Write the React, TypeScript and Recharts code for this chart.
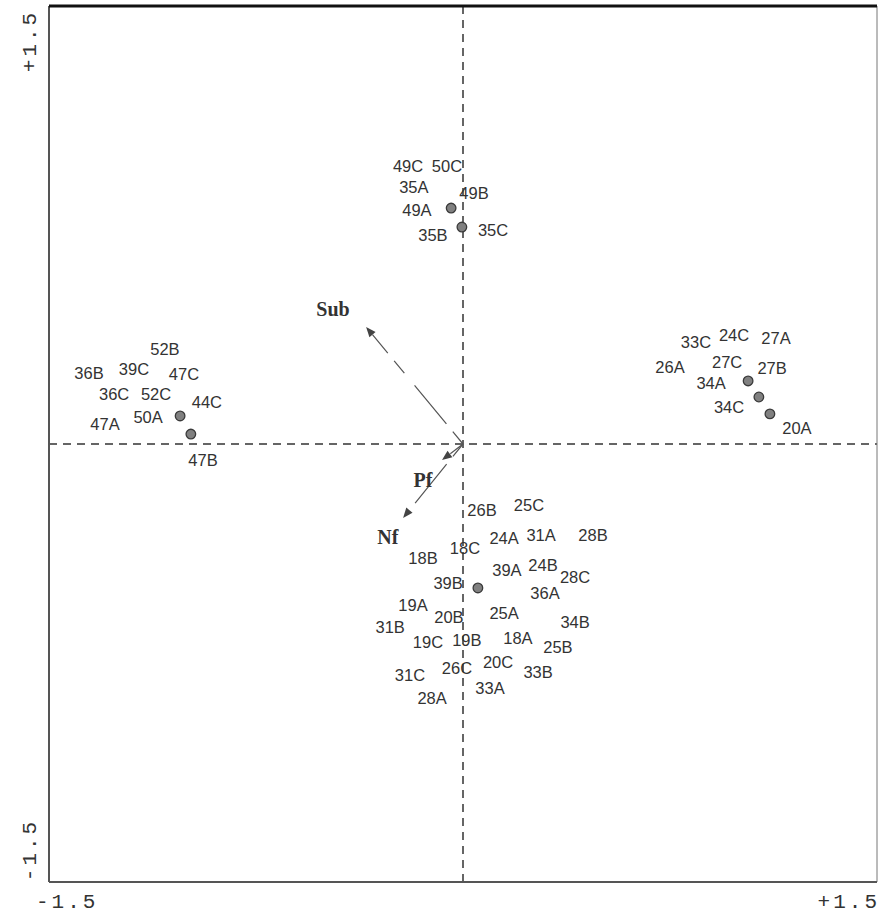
import {
  ReferenceLine,
  Scatter,
  ScatterChart,
  XAxis,
  YAxis,
} from "recharts";

// sample markers (ordination scores)
const pointX = [-0.043, -0.004, -1.025, -0.986, 1.033, 1.072, 1.112, 0.054];
const pointY = [0.808, 0.743, 0.096, 0.034, 0.216, 0.161, 0.103, -0.493];

// sample labels
const labelNames = [
  "49C", "50C", "35A", "49B", "49A", "35B", "35C",
  "52B", "36B", "39C", "47C", "36C", "52C", "44C", "50A", "47A", "47B",
  "33C", "24C", "27A", "26A", "27C", "27B", "34A", "34C", "20A",
  "26B", "25C", "24A", "31A", "28B", "18C", "18B", "39A", "24B", "28C",
  "39B", "36A", "19A", "20B", "25A", "34B", "31B", "19C", "19B", "18A",
  "25B", "20C", "26C", "31C", "33B", "33A", "28A",
];
const labelX = [
  -0.199, -0.058, -0.178, 0.04, -0.167, -0.109, 0.109,
  -1.08, -1.355, -1.192, -1.011, -1.264, -1.112, -0.928, -1.141, -1.297, -0.942,
  0.844, 0.982, 1.134, 0.75, 0.957, 1.12, 0.899, 0.964, 1.21,
  0.069, 0.239, 0.149, 0.283, 0.471, 0.007, -0.145, 0.159, 0.29, 0.406,
  -0.054, 0.297, -0.181, -0.051, 0.149, 0.406, -0.264, -0.127, 0.014, 0.199,
  0.344, 0.127, -0.022, -0.192, 0.272, 0.098, -0.112,
];
const labelY = [
  0.952, 0.952, 0.88, 0.86, 0.801, 0.716, 0.733,
  0.325, 0.243, 0.257, 0.24, 0.171, 0.171, 0.144, 0.092, 0.068, -0.055,
  0.349, 0.373, 0.363, 0.264, 0.281, 0.26, 0.209, 0.127, 0.055,
  -0.226, -0.209, -0.322, -0.312, -0.312, -0.356, -0.39, -0.432, -0.414, -0.455,
  -0.476, -0.51, -0.551, -0.592, -0.579, -0.61, -0.627, -0.678, -0.671, -0.664,
  -0.695, -0.747, -0.767, -0.791, -0.781, -0.836, -0.87,
];

// environmental vectors
const vectorNames = ["Sub", "Pf", "Nf"];
const vectorX = [-0.351, -0.076, -0.217];
const vectorY = [0.401, -0.055, -0.253];
const vectorLabelX = [-0.471, -0.145, -0.272];
const vectorLabelY = [0.462, -0.123, -0.318];

const axisTicks = [-1.5, 1.5];
const tickText = (v: number) => (v > 0 ? "+1.5" : "-1.5");

const points = pointX.map((x, i) => ({ x, y: pointY[i] }));
const labels = labelNames.map((name, i) => ({ name, x: labelX[i], y: labelY[i] }));
const vectorLabels = vectorNames.map((name, i) => ({ name, x: vectorLabelX[i], y: vectorLabelY[i] }));

const tickFont = "'Liberation Mono', 'DejaVu Sans Mono', monospace";

function Arrow(p: any) {
  const { x1, y1, x2, y2 } = p;
  const a = Math.atan2(y2 - y1, x2 - x1);
  const len = 10;
  const w = 4;
  const bx = x2 - len * Math.cos(a);
  const by = y2 - len * Math.sin(a);
  const pts = [
    `${x2},${y2}`,
    `${bx + w * Math.sin(a)},${by - w * Math.cos(a)}`,
    `${bx - w * Math.sin(a)},${by + w * Math.cos(a)}`,
  ].join(" ");
  return (
    <g>
      <line x1={x1} y1={y1} x2={bx} y2={by} stroke="#555" strokeWidth={1.2} strokeDasharray="16 10 50 16" />
      <polygon points={pts} fill="#444" />
    </g>
  );
}

function XTick(p: any) {
  const v = p.payload.value;
  return (
    <text
      x={v < 0 ? p.x - 13 : p.x + 7}
      y={p.y + 18}
      textAnchor={v < 0 ? "start" : "end"}
      fontFamily={tickFont}
      fontSize={21}
      letterSpacing={3}
      fill="#333"
    >
      {tickText(v)}
    </text>
  );
}

function YTick(p: any) {
  const v = p.payload.value;
  const cy = v > 0 ? p.y + 32 : p.y - 32;
  return (
    <text
      x={30}
      y={cy}
      transform={`rotate(-90 30 ${cy})`}
      textAnchor="middle"
      dominantBaseline="central"
      fontFamily={tickFont}
      fontSize={21}
      letterSpacing={3}
      fill="#333"
    >
      {tickText(v)}
    </text>
  );
}

export default function App() {
  return (
    <div style={{ position: "absolute", left: 0, top: 0, width: 883, height: 916, background: "#fff" }}>
      <ScatterChart width={883} height={916} margin={{ top: 6, right: 6, left: 0, bottom: 0 }}>
        <XAxis
          type="number"
          dataKey="x"
          domain={[-1.5, 1.5]}
          ticks={axisTicks}
          height={34}
          axisLine={false}
          tickLine={false}
          tick={<XTick />}
        />
        <YAxis
          type="number"
          dataKey="y"
          domain={[-1.5, 1.5]}
          ticks={axisTicks}
          width={49}
          axisLine={false}
          tickLine={false}
          tick={<YTick />}
        />
        <ReferenceLine x={0} stroke="#333" strokeWidth={1.5} strokeDasharray="8 6" />
        <ReferenceLine y={0} stroke="#333" strokeWidth={1.5} strokeDasharray="8 6" />
        <ReferenceLine x={-1.5} stroke="#555" strokeWidth={2} />
        <ReferenceLine x={1.5} stroke="#777" strokeWidth={1} />
        <ReferenceLine y={-1.5} stroke="#555" strokeWidth={2} />
        <ReferenceLine y={1.5} stroke="#111" strokeWidth={3} />
        {vectorNames.map((n, i) => (
          <ReferenceLine
            key={n}
            segment={[{ x: 0, y: 0 }, { x: vectorX[i], y: vectorY[i] }]}
            shape={Arrow}
          />
        ))}
        <Scatter
          data={points}
          isAnimationActive={false}
          shape={(p: any) => <circle cx={p.cx} cy={p.cy} r={4.8} fill="#808080" stroke="#3a3a3a" strokeWidth={1.3} />}
        />
        <Scatter
          data={labels}
          isAnimationActive={false}
          shape={(p: any) => (
            <text
              x={p.cx}
              y={p.cy}
              textAnchor="middle"
              dominantBaseline="central"
              fontFamily="'Liberation Sans', Arial, sans-serif"
              fontSize={16.5}
              fill="#333"
            >
              {p.payload.name}
            </text>
          )}
        />
        <Scatter
          data={vectorLabels}
          isAnimationActive={false}
          shape={(p: any) => (
            <text
              x={p.cx}
              y={p.cy}
              textAnchor="middle"
              dominantBaseline="central"
              fontFamily="'Liberation Serif', 'DejaVu Serif', serif"
              fontWeight="bold"
              fontSize={20}
              fill="#333"
            >
              {p.payload.name}
            </text>
          )}
        />
      </ScatterChart>
    </div>
  );
}
